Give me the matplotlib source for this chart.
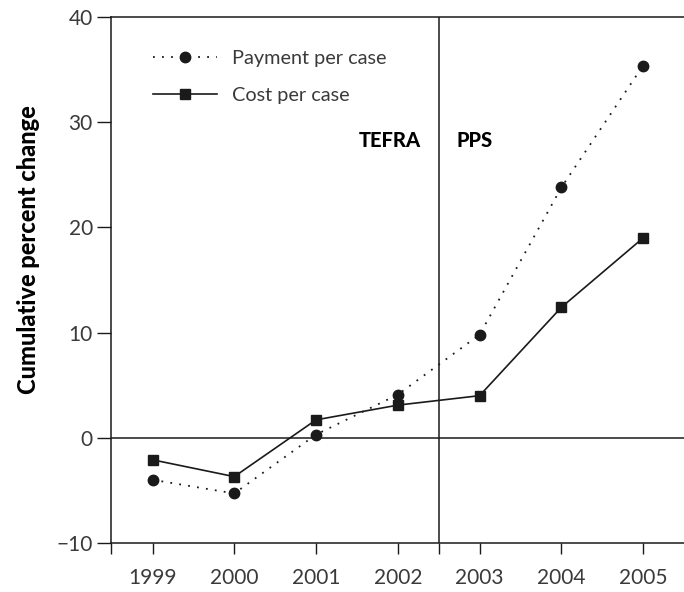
import matplotlib.pyplot as plt
import numpy as np

years = [1999, 2000, 2001, 2002, 2003, 2004, 2005]
payment = [-4.0, -5.3, 0.3, 4.1, 9.8, 23.8, 35.4]
cost = [-2.1, -3.7, 1.7, 3.1, 4.0, 12.4, 19.0]
policy_split = 2002.5

plt.rcParams['font.family'] = ['Lato', 'DejaVu Sans']

fig = plt.figure(figsize=(6.84, 5.92), dpi=100)
ax = fig.add_axes([0.162, 0.083, 0.838, 0.888])

ax.plot(years, payment, color='#1a1a1a', linestyle=(0, (1, 4)), lw=1.3,
        marker='o', markersize=7.5, label='Payment per case')
ax.plot(years, cost, color='#1a1a1a', linestyle='-', lw=1.2,
        marker='s', markersize=7.5, label='Cost per case')

ax.axhline(0, color='#1a1a1a', lw=1.1)
ax.axvline(policy_split, color='#1a1a1a', lw=1.1)

xmin, xmax = 1998.49, 2005.5
ax.set_xlim(xmin, xmax)
ax.set_ylim(-10, 40)
ax.set_xticks(years)
ax.set_xticklabels([str(y) for y in years])
ax.set_xticks([xmin, policy_split], minor=True)
ax.set_yticks([-10, 0, 10, 20, 30, 40])
ax.set_yticklabels(['\u221210', '0', '10', '20', '30', '40'])
ax.tick_params(axis='both', which='both', direction='out', color='#1a1a1a',
               labelsize=15, labelcolor='#3a3a3a')
ax.tick_params(axis='x', which='both', length=8, width=1.0, pad=10)
ax.tick_params(axis='y', length=10, width=1.0, pad=3)

ax.spines['right'].set_visible(False)
for s in ['left', 'top', 'bottom']:
    ax.spines[s].set_linewidth(1.1)
    ax.spines[s].set_color('#1a1a1a')

ax.text(2002.28, 28.3, 'TEFRA', ha='right', va='center', fontsize=14.5,
        fontweight='black')
ax.text(2002.72, 28.3, 'PPS', ha='left', va='center', fontsize=14.5,
        fontweight='black')

ax.set_ylabel('Cumulative percent change', fontsize=17, fontweight='black')
ax.yaxis.set_label_coords(-0.124, 0.557)

leg = ax.legend(loc='upper left', bbox_to_anchor=(0.043, 0.972), frameon=False,
                handlelength=3.2, labelspacing=1.0, fontsize=14.3,
                handletextpad=0.75)
for t in leg.get_texts():
    t.set_color('#3a3a3a')

fig.savefig('out.png', dpi=100)
